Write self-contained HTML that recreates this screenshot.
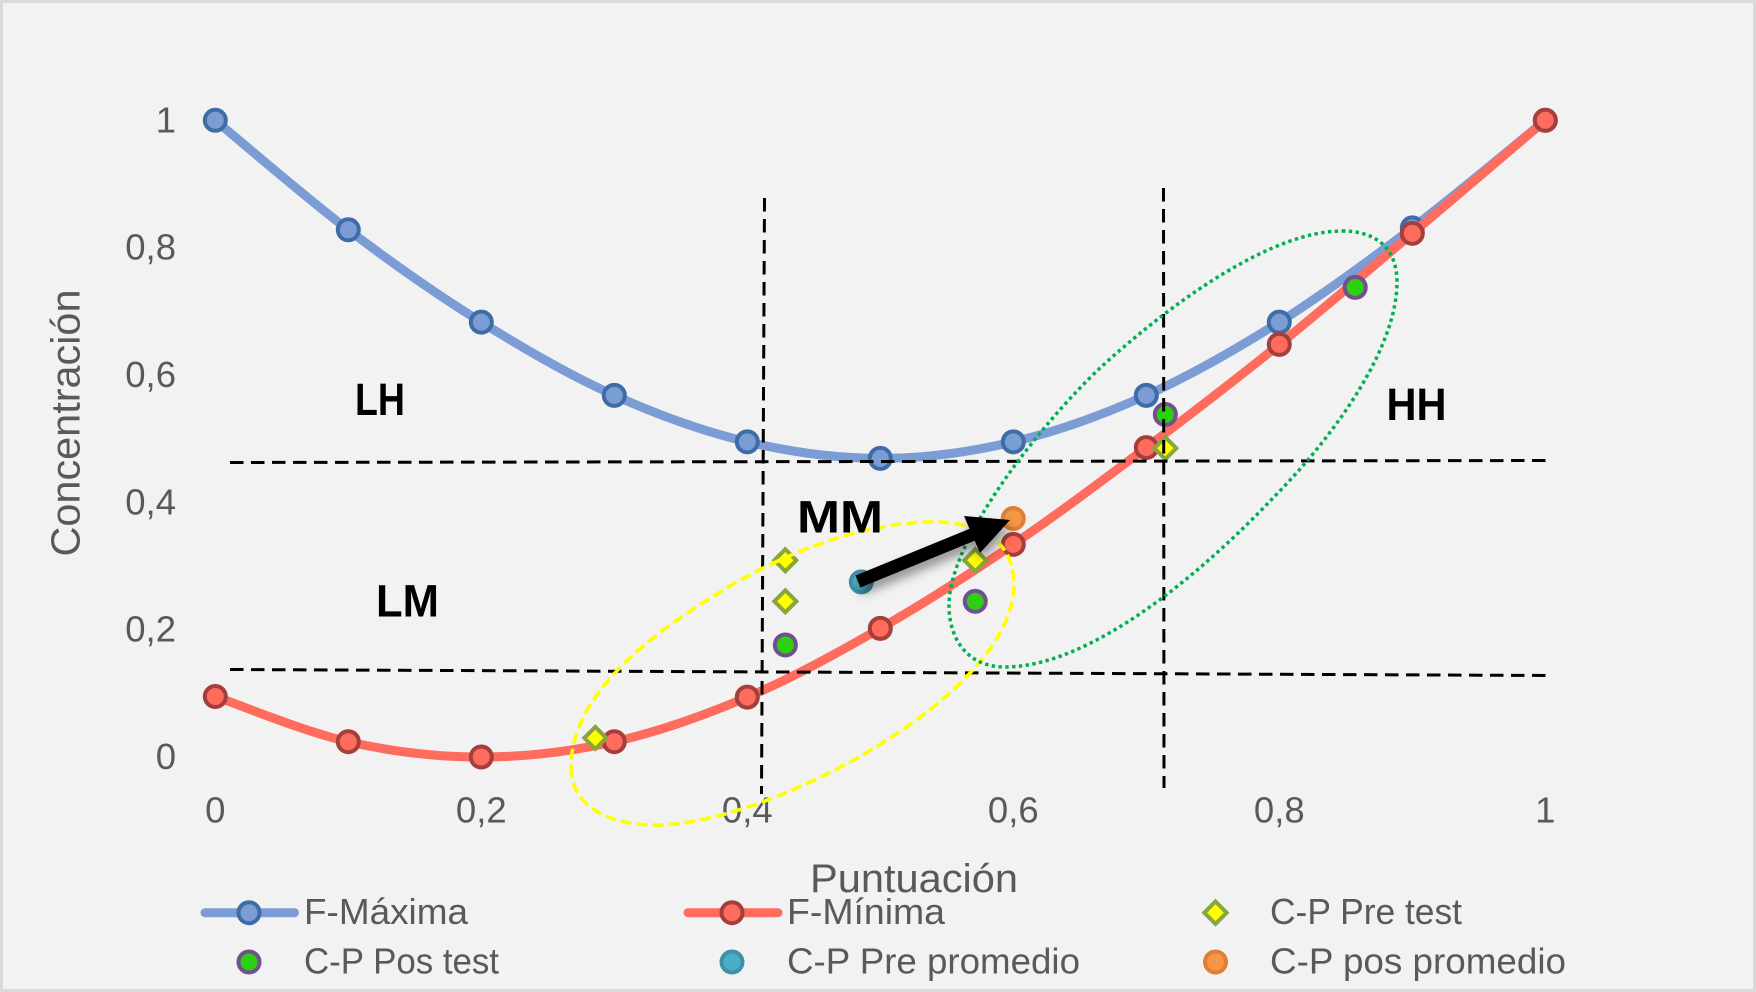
<!DOCTYPE html>
<html lang="es">
<head>
<meta charset="utf-8">
<title>Concentración vs Puntuación</title>
<style>
html,body{margin:0;padding:0;background:#f2f2f2;}
svg{display:block;}
text{font-family:"Liberation Sans",sans-serif;fill:#595959;}
</style>
</head>
<body>
<svg id="chart" xmlns="http://www.w3.org/2000/svg" width="1756" height="992" viewBox="0 0 1756 992">
  <defs>
    <filter id="arrow-shadow" x="-20%" y="-40%" width="140%" height="200%">
      <feDropShadow dx="2" dy="7" stdDeviation="5" flood-color="#000" flood-opacity="0.4"/>
    </filter>
  </defs>
  <rect x="1.5" y="1.5" width="1753" height="989" fill="#f2f2f2" stroke="#d9d9d9" stroke-width="3"/>

  <g id="y-ticks"></g>
  <g id="x-ticks"></g>

  <text transform="translate(79.5,423) rotate(-90)" text-anchor="middle" font-size="41" textLength="267" lengthAdjust="spacingAndGlyphs">Concentración</text>
  <text x="914" y="892" text-anchor="middle" font-size="40" textLength="208" lengthAdjust="spacingAndGlyphs">Puntuación</text>

  <g id="series"></g>

  <g fill="none" stroke="#000" stroke-width="3" stroke-dasharray="13.5 7.5">
    <line x1="230" y1="462.5" x2="1546" y2="460.5"/>
    <line x1="230" y1="669.5" x2="1546" y2="675.5"/>
    <line x1="764.5" y1="198" x2="761.5" y2="794"/>
    <line x1="1163.5" y1="188" x2="1164" y2="788"/>
  </g>

  <path d="M571 767C571 803 603 825 657 825C768 825 1014 695 1014 585C1014 547 990 522 932 522C855 522 770 561 720 592C660 629 571 690 571 767Z" fill="none" stroke="#ffff00" stroke-width="3.6" stroke-dasharray="11 5"/>
  <path d="M1342 231C1378 231 1397 250 1397 282C1397 345 1340 430 1273 498C1200 575 1090 667 1005 667C968 667 949 640 949 605C949 540 1040 425 1100 368C1180 295 1275 231 1342 231Z" fill="none" stroke="#00b050" stroke-width="3.5" stroke-dasharray="3.4 3.4"/>

  <g filter="url(#arrow-shadow)">
    <line x1="858" y1="581.5" x2="974" y2="534" stroke="#000" stroke-width="13"/>
    <polygon points="1010,520 964,516 980,553" fill="#000"/>
  </g>

  <g font-weight="bold">
    <text x="355" y="415" font-size="45" style="fill:#000" textLength="50" lengthAdjust="spacingAndGlyphs">LH</text>
    <text x="376" y="616.5" font-size="45" style="fill:#000" textLength="63" lengthAdjust="spacingAndGlyphs">LM</text>
    <text x="797" y="532.5" font-size="45" style="fill:#000" textLength="86" lengthAdjust="spacingAndGlyphs">MM</text>
    <text x="1386.5" y="420" font-size="45" style="fill:#000" textLength="60" lengthAdjust="spacingAndGlyphs">HH</text>
  </g>

  <g font-size="36">
    <g>
      <line x1="205" y1="912.7" x2="294.5" y2="912.7" stroke="#7c9cd6" stroke-width="9" stroke-linecap="round"/>
      <circle cx="249" cy="912.7" r="10.5" fill="#7c9cd6" stroke="#3e6da6" stroke-width="4"/>
      <text x="304" y="924" textLength="164" lengthAdjust="spacingAndGlyphs">F-Máxima</text>
    </g>
    <g>
      <line x1="688" y1="912.7" x2="778" y2="912.7" stroke="#ff6b5c" stroke-width="9" stroke-linecap="round"/>
      <circle cx="732" cy="912.7" r="10.5" fill="#ff6b5c" stroke="#a33f3c" stroke-width="4"/>
      <text x="787" y="924" textLength="158" lengthAdjust="spacingAndGlyphs">F-Mínima</text>
    </g>
    <g>
      <polygon points="1215.5,901.5 1226.7,912.7 1215.5,923.9 1204.3,912.7" fill="#ffff00" stroke="#8ba53e" stroke-width="4"/>
      <text x="1270" y="924" textLength="192" lengthAdjust="spacingAndGlyphs">C-P Pre test</text>
    </g>
    <g>
      <circle cx="249" cy="962" r="10.5" fill="#2dd010" stroke="#70508f" stroke-width="4"/>
      <text x="304" y="973.3" textLength="195" lengthAdjust="spacingAndGlyphs">C-P Pos test</text>
    </g>
    <g>
      <circle cx="732" cy="962" r="10.5" fill="#4bacc6" stroke="#3f90a8" stroke-width="4"/>
      <text x="787" y="973.3" textLength="293" lengthAdjust="spacingAndGlyphs">C-P Pre promedio</text>
    </g>
    <g>
      <circle cx="1215.5" cy="962" r="10.5" fill="#f79646" stroke="#de7f35" stroke-width="4"/>
      <text x="1270" y="973.3" textLength="296" lengthAdjust="spacingAndGlyphs">C-P pos promedio</text>
    </g>
  </g>
</svg>
<script>
var xTickValues = [0, 0.2, 0.4, 0.6, 0.8, 1];
var xTickLabels = ["0", "0,2", "0,4", "0,6", "0,8", "1"];
var yTickValues = [0, 0.2, 0.4, 0.6, 0.8, 1];
var yTickLabels = ["0", "0,2", "0,4", "0,6", "0,8", "1"];

var curveX = [0, 0.1, 0.2, 0.3, 0.4, 0.5, 0.6, 0.7, 0.8, 0.9, 1];
var fMaxima = [1, 0.828, 0.683, 0.568, 0.495, 0.469, 0.495, 0.568, 0.683, 0.831, 1];
var fMinima = [0.095, 0.024, 0, 0.024, 0.094, 0.202, 0.334, 0.486, 0.648, 0.8225, 1];

var preTestX = [0.2857, 0.4286, 0.4286, 0.5714, 0.7143];
var preTestY = [0.03, 0.309, 0.2445, 0.309, 0.485];
var posTestX = [0.4286, 0.5714, 0.7143, 0.8571];
var posTestY = [0.176, 0.2445, 0.538, 0.7376];
var prePromedioX = [0.4857];
var prePromedioY = [0.275];
var posPromedioX = [0.6];
var posPromedioY = [0.3745];

var NS = "http://www.w3.org/2000/svg";

function sx(v) { return 215.3 + 1330 * v; }
function sy(v) { return 757 - 636.7 * v; }

function make(tag, parent) {
  var el = document.createElementNS(NS, tag);
  parent.appendChild(el);
  return el;
}

function smoothPath(xs, ys) {
  var pts = xs.map(function (x, i) { return [sx(x), sy(ys[i])]; });
  var d = "M" + pts[0][0] + " " + pts[0][1];
  for (var i = 0; i < pts.length - 1; i++) {
    var p0 = pts[Math.max(i - 1, 0)];
    var p1 = pts[i];
    var p2 = pts[i + 1];
    var p3 = pts[Math.min(i + 2, pts.length - 1)];
    var c1x = p1[0] + (p2[0] - p0[0]) / 6;
    var c1y = p1[1] + (p2[1] - p0[1]) / 6;
    var c2x = p2[0] - (p3[0] - p1[0]) / 6;
    var c2y = p2[1] - (p3[1] - p1[1]) / 6;
    d += "C" + c1x + " " + c1y + " " + c2x + " " + c2y + " " + p2[0] + " " + p2[1];
  }
  return d;
}

var xTickGroup = document.getElementById("x-ticks");
xTickValues.forEach(function (v, i) {
  var t = make("text", xTickGroup);
  
  
  t.setAttribute("x", sx(v));
  t.setAttribute("y", 822.7);
  t.setAttribute("text-anchor", "middle");
  t.setAttribute("font-size", "36.5");
  t.textContent = xTickLabels[i];
});

var yTickGroup = document.getElementById("y-ticks");
yTickValues.forEach(function (v, i) {
  var t = make("text", yTickGroup);
  
  
  t.setAttribute("x", 176);
  t.setAttribute("y", sy(v) + 12);
  t.setAttribute("text-anchor", "end");
  t.setAttribute("font-size", "36.5");
  t.textContent = yTickLabels[i];
});

var seriesGroup = document.getElementById("series");

var maxLine = make("path", seriesGroup);


maxLine.setAttribute("d", smoothPath(curveX, fMaxima));
maxLine.setAttribute("fill", "none");
maxLine.setAttribute("stroke", "#7c9cd6");
maxLine.setAttribute("stroke-width", "9");

curveX.forEach(function (x, i) {
  var c = make("circle", seriesGroup);
  
  
  c.setAttribute("cx", sx(x));
  c.setAttribute("cy", sy(fMaxima[i]));
  c.setAttribute("r", "10.5");
  c.setAttribute("fill", "#7c9cd6");
  c.setAttribute("stroke", "#3e6da6");
  c.setAttribute("stroke-width", "4");
});

var minLine = make("path", seriesGroup);


minLine.setAttribute("d", smoothPath(curveX, fMinima));
minLine.setAttribute("fill", "none");
minLine.setAttribute("stroke", "#ff6b5c");
minLine.setAttribute("stroke-width", "9");

curveX.forEach(function (x, i) {
  var c = make("circle", seriesGroup);
  
  
  c.setAttribute("cx", sx(x));
  c.setAttribute("cy", sy(fMinima[i]));
  c.setAttribute("r", "10.5");
  c.setAttribute("fill", "#ff6b5c");
  c.setAttribute("stroke", "#a33f3c");
  c.setAttribute("stroke-width", "4");
});

preTestX.forEach(function (x, i) {
  var cx = sx(x);
  var cy = sy(preTestY[i]);
  var r = 11;
  var p = make("polygon", seriesGroup);
  
  
  p.setAttribute("points", [cx, cy - r, cx + r, cy, cx, cy + r, cx - r, cy].join(" "));
  p.setAttribute("fill", "#ffff00");
  p.setAttribute("stroke", "#8ba53e");
  p.setAttribute("stroke-width", "4");
});

posTestX.forEach(function (x, i) {
  var c = make("circle", seriesGroup);
  
  
  c.setAttribute("cx", sx(x));
  c.setAttribute("cy", sy(posTestY[i]));
  c.setAttribute("r", "10.5");
  c.setAttribute("fill", "#2dd010");
  c.setAttribute("stroke", "#70508f");
  c.setAttribute("stroke-width", "4");
});

prePromedioX.forEach(function (x, i) {
  var c = make("circle", seriesGroup);
  
  
  c.setAttribute("cx", sx(x));
  c.setAttribute("cy", sy(prePromedioY[i]));
  c.setAttribute("r", "10.5");
  c.setAttribute("fill", "#4bacc6");
  c.setAttribute("stroke", "#3f90a8");
  c.setAttribute("stroke-width", "4");
});

posPromedioX.forEach(function (x, i) {
  var c = make("circle", seriesGroup);
  
  
  c.setAttribute("cx", sx(x));
  c.setAttribute("cy", sy(posPromedioY[i]));
  c.setAttribute("r", "10.5");
  c.setAttribute("fill", "#f79646");
  c.setAttribute("stroke", "#de7f35");
  c.setAttribute("stroke-width", "4");
});
</script>
</body>
</html>
